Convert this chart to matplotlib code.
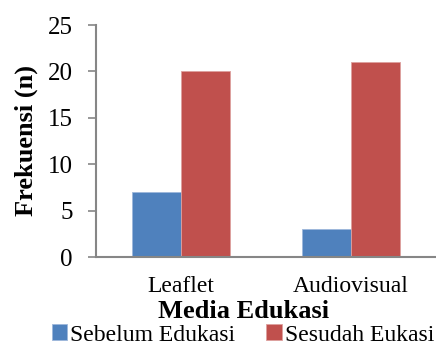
import matplotlib.pyplot as plt
import numpy as np

# data
categories = ['Leaflet', 'Audiovisual']
sebelum = [7, 3]
sesudah = [20, 21]
series_names = ['Sebelum Edukasi', 'Sesudah Eukasi']
y_ticks = [0, 5, 10, 15, 20, 25]

plt.rcParams['font.family'] = ['Liberation Serif', 'DejaVu Serif']

fig = plt.figure(figsize=(4.36, 3.47), dpi=100)
ax = fig.add_axes([96/436, 1-257/347, 340/436, 232/347])

x = np.arange(len(categories))
w = 0.288
ax.bar(x - w/2, sebelum, w, color='#4F81BD', edgecolor='#9DB7DB', linewidth=0.6, label=series_names[0])
ax.bar(x + w/2, sesudah, w, color='#C0504D', edgecolor='#DDA09E', linewidth=0.6, label=series_names[1])

ax.set_xlim(-0.5, 1.5)
ax.set_ylim(0, 25)
ax.set_yticks(y_ticks)
ax.set_xticks(x)
ax.set_xticklabels(categories, fontsize=17)
ax.tick_params(axis='y', labelsize=18, length=5.8, width=1.2, color='#868686', pad=11)
ax.tick_params(axis='x', length=0, pad=14)

for s in ['top', 'right']:
    ax.spines[s].set_visible(False)
for s in ['left', 'bottom']:
    ax.spines[s].set_color('#868686')
    ax.spines[s].set_linewidth(1.5)

ax.set_ylabel('Frekuensi (n)', fontsize=19, fontweight='bold')
ax.yaxis.set_label_coords(-0.172, 0.5)
fig.text(244/436, 1-311/347, 'Media Edukasi', fontsize=19, fontweight='bold', ha='center', va='center')

fig.legend(loc='center', bbox_to_anchor=(243/436, 1-335/347), ncol=2, frameon=False,
           fontsize=17, handlelength=0.65, handleheight=0.65, handletextpad=0.15,
           columnspacing=1.3, borderpad=0, borderaxespad=0)

fig.savefig('out.png', dpi=100)
